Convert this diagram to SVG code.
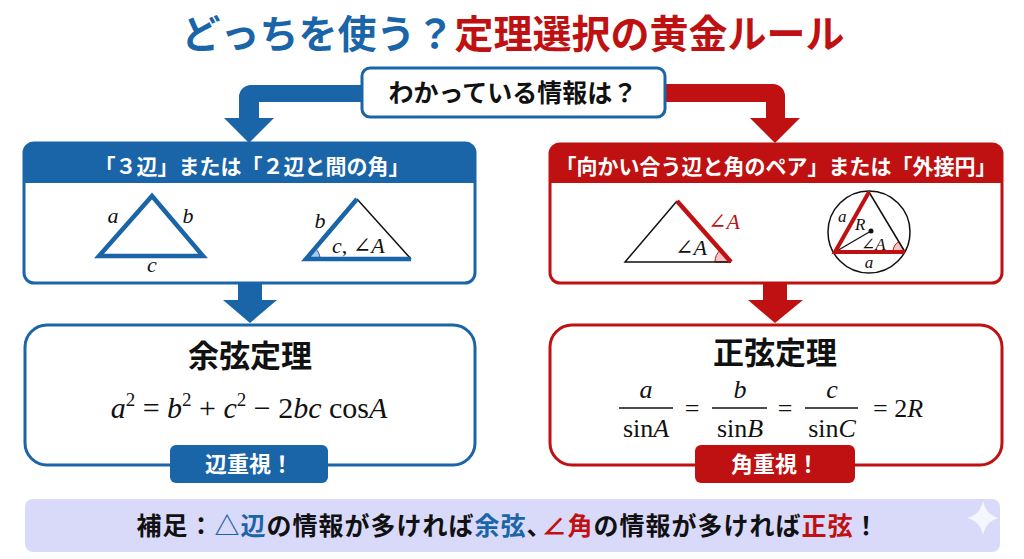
<svg xmlns="http://www.w3.org/2000/svg" width="1024" height="559" viewBox="0 0 1024 559">
<style>
.jp{font-family:"Noto Sans CJK JP","Noto Sans",sans-serif;font-weight:700}
.m{font-family:"Liberation Serif","DejaVu Serif",serif}
.i{font-style:italic}
.blue{fill:#1a64a8}
.red{fill:#bf1111}
</style>
<rect width="1024" height="559" fill="#ffffff"/>
<g id="title">
<text class="jp" x="513" y="48" font-size="39" text-anchor="middle" font-weight="900"><tspan class="blue">どっちを使う？</tspan><tspan class="red">定理選択の黄金ルール</tspan></text>
</g>
<g id="connectors">
<path d="M362,85 H251 A12,12 0 0 0 239,97 V118 H224 L249,143 L274,118 H259 V102 H362 Z" fill="#1a64a8"/>
<path d="M665,84 H773 A12,12 0 0 1 785,96 V118 H800 L775,143 L750,118 H766 V102 H665 Z" fill="#bf1111"/>
<path d="M238,283 H262 V300 H277 L250,323 L223,300 H238 Z" fill="#1a64a8"/>
<path d="M763,283 H787 V300 H803 L775,323 L748,300 H763 Z" fill="#bf1111"/>
</g>
<g id="question">
<rect x="362" y="68" width="303" height="49" rx="8" fill="#ffffff" stroke="#1a64a8" stroke-width="3"/>
<text class="jp" x="513" y="102" font-size="25" text-anchor="middle" fill="#111">わかっている情報は？</text>
</g>
<g id="left-panel">
<rect x="24" y="143" width="451" height="140" rx="10" fill="#ffffff" stroke="#1a64a8" stroke-width="3"/>
<path d="M24,183 V153 A10,10 0 0 1 34,143 H465 A10,10 0 0 1 475,153 V183 Z" fill="#1a64a8"/>
<text class="jp" x="252" y="174" font-size="21" text-anchor="middle" fill="#ffffff">「３辺」または「２辺と間の角」</text>
<polygon points="99,256 152,196 203,256" fill="none" stroke="#1a64a8" stroke-width="4.5" stroke-linejoin="miter"/>
<text class="m i" x="113" y="223" font-size="22" text-anchor="middle" fill="#111">a</text>
<text class="m i" x="188" y="223" font-size="22" text-anchor="middle" fill="#111">b</text>
<text class="m i" x="152" y="272" font-size="22" text-anchor="middle" fill="#111">c</text>
<path d="M306,259 L320,259 A14,14 0 0 0 315.1,248.3 Z" fill="#a9c9ee" stroke="#1a64a8" stroke-width="1"/>
<line x1="357" y1="199" x2="411" y2="259" stroke="#111" stroke-width="1.5"/>
<polyline points="357,199 306,259 411,259" fill="none" stroke="#1a64a8" stroke-width="4.5"/>
<text class="m i" x="320" y="228" font-size="22" text-anchor="middle" fill="#111">b</text>
<text class="m" x="332" y="253" font-size="22" fill="#111"><tspan class="i">c</tspan>, ∠<tspan class="i">A</tspan></text>
</g>
<g id="right-panel">
<rect x="550" y="144" width="452" height="139" rx="10" fill="#ffffff" stroke="#bf1111" stroke-width="3"/>
<path d="M550,183 V154 A10,10 0 0 1 560,144 H992 A10,10 0 0 1 1002,154 V183 Z" fill="#bf1111"/>
<text class="jp" x="776" y="174" font-size="21" text-anchor="middle" fill="#ffffff">「向かい合う辺と角のペア」または「外接円」</text>
<path d="M731,262 L715,262 A16,16 0 0 1 720.4,250 Z" fill="#f6c4c4" stroke="#bf1111" stroke-width="1"/>
<polyline points="677,201 625,262 731,262" fill="none" stroke="#111" stroke-width="1.5"/>
<line x1="677" y1="201" x2="731" y2="262" stroke="#bf1111" stroke-width="4.5"/>
<text class="m i" x="708" y="229" font-size="22" fill="#bf1111">∠A</text>
<text class="m i" x="675" y="255" font-size="22" fill="#111">∠A</text>
<circle cx="869" cy="232" r="41" fill="none" stroke="#111" stroke-width="1.5"/>
<path d="M905,252 L893,252 A12,12 0 0 1 898.8,241.7 Z" fill="#f6c4c4" stroke="#bf1111" stroke-width="1"/>
<line x1="869" y1="192" x2="905" y2="252" stroke="#111" stroke-width="1.5"/>
<line x1="835" y1="252" x2="871" y2="231" stroke="#111" stroke-width="1.3"/>
<polyline points="869,192 835,252 905,252" fill="none" stroke="#bf1111" stroke-width="4"/>
<circle cx="871" cy="231" r="2.5" fill="#111"/>
<text class="m i" x="838" y="222" font-size="17" fill="#111">a</text>
<text class="m i" x="855" y="230" font-size="17" fill="#111">R</text>
<text class="m i" x="861" y="250" font-size="17" fill="#111">∠A</text>
<text class="m i" x="869" y="268" font-size="17" text-anchor="middle" fill="#111">a</text>
</g>
<g id="cosine-box">
<rect x="25" y="325" width="450" height="140" rx="22" fill="#ffffff" stroke="#1a64a8" stroke-width="3"/>
<text class="jp" x="250" y="367" font-size="31" text-anchor="middle" fill="#111" font-weight="900">余弦定理</text>
<text class="m" x="249" y="418" font-size="30" fill="#111" text-anchor="middle"><tspan class="i">a</tspan><tspan font-size="19" dy="-12">2</tspan><tspan dy="12"> = </tspan><tspan class="i">b</tspan><tspan font-size="19" dy="-12">2</tspan><tspan dy="12"> + </tspan><tspan class="i">c</tspan><tspan font-size="19" dy="-12">2</tspan><tspan dy="12"> − 2</tspan><tspan class="i">bc</tspan><tspan> cos</tspan><tspan class="i">A</tspan></text>
<rect x="170" y="445" width="158" height="38" rx="6" fill="#1a64a8"/>
<text class="jp" x="249" y="472" font-size="22" text-anchor="middle" fill="#ffffff">辺重視！</text>
</g>
<g id="sine-box">
<rect x="550" y="325" width="452" height="140" rx="22" fill="#ffffff" stroke="#bf1111" stroke-width="3"/>
<text class="jp" x="775" y="364" font-size="31" text-anchor="middle" fill="#111" font-weight="900">正弦定理</text>
<g class="m" font-size="26" fill="#111" text-anchor="middle">
<text class="i" x="646" y="398">a</text>
<line x1="619" y1="408" x2="673" y2="408" stroke="#111" stroke-width="1.5"/>
<text x="646" y="437">sin<tspan class="i">A</tspan></text>
<text x="692" y="417">=</text>
<text class="i" x="740" y="398">b</text>
<line x1="712" y1="408" x2="767" y2="408" stroke="#111" stroke-width="1.5"/>
<text x="740" y="437">sin<tspan class="i">B</tspan></text>
<text x="785" y="417">=</text>
<text class="i" x="832" y="398">c</text>
<line x1="805" y1="408" x2="858" y2="408" stroke="#111" stroke-width="1.5"/>
<text x="832" y="437">sin<tspan class="i">C</tspan></text>
<text x="898" y="417">= 2<tspan class="i">R</tspan></text>
</g>
<rect x="695" y="445" width="160" height="38" rx="6" fill="#bf1111"/>
<text class="jp" x="775" y="472" font-size="22" text-anchor="middle" fill="#ffffff">角重視！</text>
</g>
<g id="note">
<rect x="25" y="499" width="975" height="53" rx="8" fill="#d9d9f9"/>
<path d="M983,501 Q986,515 999,518 Q986,521 983,535 Q980,521 967,518 Q980,515 983,501 Z" fill="#ffffff" opacity="0.75"/>
<text class="jp" x="508" y="535" font-size="25" text-anchor="middle" fill="#111" letter-spacing="1">補足：<tspan class="blue">△辺</tspan>の情報が多ければ<tspan class="blue">余弦</tspan><tspan letter-spacing="-10">、</tspan><tspan class="red">∠角</tspan>の情報が多ければ<tspan class="red">正弦</tspan>！</text>
</g>
</svg>
